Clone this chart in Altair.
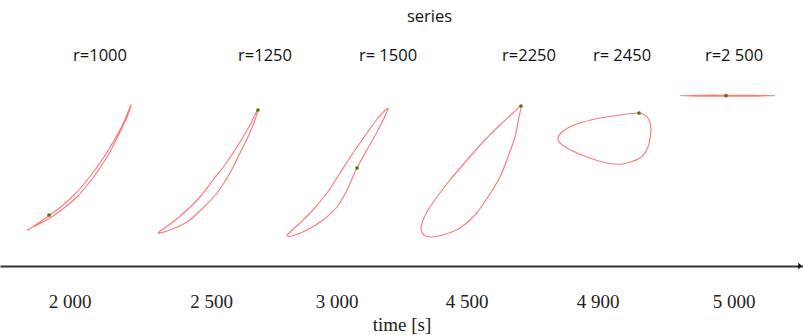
import altair as alt
import pandas as pd

# Sampled hysteresis loops, one per recorded time.
# x: position along the time strip, h: height above the baseline.
r1000_x = [28, 40, 50, 62, 75, 88, 100, 112, 122, 131, 128, 120, 111, 100, 89, 77, 64, 50, 39, 31]
r1000_h = [36, 44, 51, 60, 72, 87, 103, 122, 140, 161, 151, 134, 116, 98, 83, 69, 58, 48, 42, 38]

r1250_x = [158, 173, 187, 200, 213, 227, 240, 250, 258, 255, 248, 240, 230, 217, 203, 187, 170]
r1250_h = [33, 44, 56, 69, 86, 104, 124, 141, 157, 146, 129, 113, 93, 73, 58, 44, 36]

r1500_x = [287, 300, 313, 327, 340, 353, 367, 378, 388, 384, 377, 368, 357, 347, 337, 323, 307, 292]
r1500_h = [31, 43, 56, 73, 93, 113, 133, 148, 158, 148, 134, 118, 98, 76, 59, 46, 36, 30]

r2250_x = [424, 421, 423, 428, 437, 450, 467, 483, 500, 513, 521, 519, 515, 508, 500, 488, 475, 460, 443, 431]
r2250_h = [31, 37, 46, 56, 69, 86, 106, 124, 141, 153, 160, 149, 129, 109, 89, 69, 51, 38, 31, 29]

r2450_x = [639, 648, 651, 648, 640, 623, 607, 587, 567, 558, 562, 577, 600, 620]
r2450_h = [153, 148, 136, 119, 108, 102, 103, 109, 118, 126, 134, 142, 148, 151]

r2500_x = [680, 700, 726, 750, 775, 750, 726, 700]
r2500_h = [170.4, 170.8, 170.8, 170.7, 170.4, 169.9, 169.7, 169.8]

# Current state marked on each loop
dot_x = [49, 258, 357, 521, 639, 726]
dot_h = [51, 156, 98, 160, 153, 170.3]

series_names = ["r=1000", "r=1250", "r= 1500", "r=2250", "r= 2450", "r=2 500"]
times = ["2 000", "2 500", "3 000", "4 500", "4 900", "5 000"]

# Layout: where the time ticks and the series headers sit
tick_at = [69.5, 211, 336.5, 466.5, 597.5, 733.5]
label_at = [100, 265, 388, 529, 622, 734]
header_level = 210
title_level = 249

loop_x = [r1000_x, r1250_x, r1500_x, r2250_x, r2450_x, r2500_x]
loop_h = [r1000_h, r1250_h, r1500_h, r2250_h, r2450_h, r2500_h]

rows = []
for name, xs, hs in zip(series_names, loop_x, loop_h):
    for i, (xv, hv) in enumerate(zip(xs, hs)):
        rows.append({"series": name, "i": i, "x": xv, "h": hv})
loops = pd.DataFrame(rows)
dots = pd.DataFrame({"series": series_names, "x": dot_x, "h": dot_h})
headers = pd.DataFrame({"label": series_names, "x": label_at, "h": [header_level] * 6})
title_df = pd.DataFrame({"label": ["series"], "x": [429.5], "h": [title_level]})
arrow_df = pd.DataFrame({"x": [800], "h": [0]})

x_scale = alt.Scale(domain=[0, 803], nice=False, zero=False)
y_scale = alt.Scale(domain=[0, 266], nice=False, zero=False)

tick_list = "[" + ",".join(str(t) for t in tick_at) + "]"
label_list = "[" + ",".join("'" + t + "'" for t in times) + "]"

x_axis = alt.Axis(
    values=tick_at,
    labelExpr=f"{label_list}[indexof({tick_list}, datum.value)]",
    title="time [s]",
    domain=True,
    domainColor="#333333",
    domainWidth=2,
    ticks=False,
    tickSize=0,
    grid=False,
    labelFont="Liberation Serif",
    labelFontSize=19,
    labelColor="#222222",
    labelPadding=26,
    labelFlush=False,
    labelOverlap=False,
    titleFont="Liberation Serif",
    titleFontSize=19,
    titleFontWeight="normal",
    titleColor="#222222",
    titlePadding=4,
)

curves = alt.Chart(loops).mark_line(
    interpolate="cardinal-closed", tension=0.25, color="#ff6b6b", strokeWidth=1.15, opacity=0.9
).encode(
    x=alt.X("x:Q", scale=x_scale, axis=x_axis),
    y=alt.Y("h:Q", scale=y_scale, axis=None),
    detail="series:N",
    order="i:Q",
)

points = alt.Chart(dots).mark_point(filled=True, size=14, color="#4c7a10", opacity=1).encode(
    x=alt.X("x:Q", scale=x_scale),
    y=alt.Y("h:Q", scale=y_scale),
)

header_text = alt.Chart(headers).mark_text(
    font="Open Sans", fontSize=16.5, color="#111111", baseline="middle", align="center"
).encode(
    x=alt.X("x:Q", scale=x_scale),
    y=alt.Y("h:Q", scale=y_scale),
    text="label:N",
)

title_text = alt.Chart(title_df).mark_text(
    font="Open Sans", fontSize=16.5, color="#111111", baseline="middle", align="center"
).encode(
    x=alt.X("x:Q", scale=x_scale),
    y=alt.Y("h:Q", scale=y_scale),
    text="label:N",
)

arrow = alt.Chart(arrow_df).mark_point(
    shape="M-0.5,-1L0.5,0L-0.5,1Z", filled=True, size=49, color="#111111", opacity=1
).encode(
    x=alt.X("x:Q", scale=x_scale),
    y=alt.Y("h:Q", scale=y_scale),
)

chart = (
    alt.layer(curves, points, header_text, title_text, arrow)
    .properties(
        width=803,
        height=266,
        autosize=alt.AutoSizeParams(type="none"),
        padding={"left": 0, "top": 0, "right": 0, "bottom": 69},
        background="white",
    )
    .configure_view(stroke=None)
)

chart.save("out.html", embed_options={"renderer": "svg", "actions": False})
